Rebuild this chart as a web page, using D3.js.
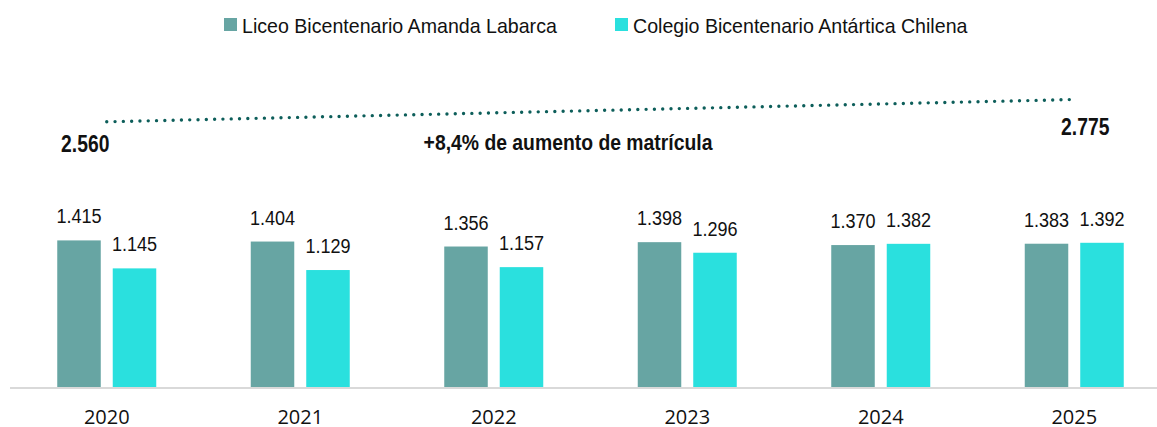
<!DOCTYPE html>
<html><head><meta charset="utf-8">
<script src="https://cdn.jsdelivr.net/npm/d3@7"></script>
<style>
html,body{margin:0;padding:0;background:#fff;}
svg{display:block;}
.narrow{font-family:"Liberation Sans Narrow","Arial Narrow","Liberation Sans",Arial,sans-serif;}
</style></head>
<body>
<svg id="chart" width="1157" height="427"></svg>
<script>
const years = ["2020","2021","2022","2023","2024","2025"];
const seriesNames = ["Liceo Bicentenario Amanda Labarca","Colegio Bicentenario Antártica Chilena"];
const amandaLabarca = [1415, 1404, 1356, 1398, 1370, 1383];
const antarticaChilena = [1145, 1129, 1157, 1296, 1382, 1392];
const totalYears = ["2020","2025"];
const totalValues = [2560, 2775];
const growthLabel = "+8,4% de aumento de matrícula";
const colors = ["#67a5a3", "#2ae0de"];

const svg = d3.select("#chart");
const W = 1157, H = 427;
const base = 387;
const loc = d3.formatLocale({decimal:",", thousands:".", grouping:[3], currency:["$",""]});
const fmt = loc.format(",d");

// condensed text: real text, horizontally scaled around its anchor
function condensedText(parent, px, py, sx, str, size, weight, anchor){
  return parent.append("text").attr("class","narrow")
    .attr("transform", `translate(${px},${py}) scale(${sx},1)`)
    .attr("text-anchor", anchor || "middle")
    .attr("font-size", size).attr("font-weight", weight || "normal")
    .attr("fill", "#111").text(str);
}

const x = d3.scaleBand().domain(years).range([10, 1171]).padding(0);
const xs = d3.scaleBand().domain([0,1])
  .range([x.bandwidth()/2 - 49.5, x.bandwidth()/2 + 49.5]).paddingInner(0.216).paddingOuter(0);
const y = d3.scaleLinear().domain([0, 3000]).range([base, base - 3000*0.1036]);

const seriesData = [amandaLabarca, antarticaChilena];

// axis baseline
const xAxis = d3.axisBottom(x).tickSize(0).tickPadding(0);
const gAxis = svg.append("g").attr("transform", `translate(0,${base})`).call(xAxis);
gAxis.select(".domain").attr("stroke", "#d9d9d9").attr("stroke-width", 2)
  .attr("d", `M10,1H${W}`);
gAxis.selectAll(".tick text")
  .attr("font-family", "'Open Sans', 'Liberation Sans', sans-serif")
  .attr("font-size", 20).attr("fill", "#111")
  .attr("dy", 0).attr("y", 37);

// bars
const groups = svg.selectAll("g.grp").data(years).join("g")
  .attr("class","grp").attr("transform", d => `translate(${x(d)},0)`);
groups.each(function(yr, i){
  const g = d3.select(this);
  [0,1].forEach(s => {
    const v = seriesData[s][i];
    g.append("rect")
      .attr("x", xs(s)).attr("width", xs.bandwidth())
      .attr("y", y(v)).attr("height", base - y(v))
      .attr("fill", colors[s]);
    condensedText(g, xs(s) + xs.bandwidth()/2, y(v) - 17, 0.86, fmt(v), 21);
  });
});

// dotted total line
const cx = d => x(d) + x.bandwidth()/2;
const pts = totalYears.map((yr,i) => [cx(yr), y(totalValues[i])]);
svg.append("path")
  .attr("d", d3.line()(pts))
  .attr("fill","none").attr("stroke","#0d5e5a")
  .attr("stroke-width", 3.4).attr("stroke-linecap","round")
  .attr("stroke-dasharray","0 8.3");

const totOffsets = [[-21.5, 30], [11, 35.5]];
totalValues.forEach((v,i) => {
  condensedText(svg, pts[i][0] + totOffsets[i][0], pts[i][1] + totOffsets[i][1], 0.84, fmt(v), 23, "bold");
});

condensedText(svg, 568, 150, 0.88, growthLabel, 22, "bold");

// legend
const legX = [224, 615];
const leg = svg.selectAll("g.leg").data(seriesNames).join("g")
  .attr("class","leg").attr("transform", (d,i) => `translate(${legX[i]},18)`);
leg.append("rect").attr("width", 13).attr("height", 13).attr("fill", (d,i) => colors[i]);
leg.each(function(d){
  condensedText(d3.select(this), 18, 15, 0.98, d, 20, "normal", "start");
});
</script>
</body></html>
